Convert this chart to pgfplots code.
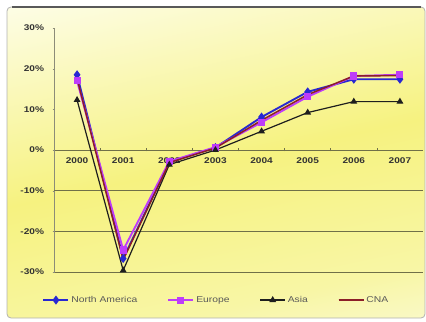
\documentclass[border=0pt]{standalone}
\usepackage{pgfplots}
\pgfplotsset{compat=1.18}
\usepackage{fontspec}
\setmainfont{Liberation Sans}
\newfontfamily\widefont[FakeStretch=1.22]{Liberation Sans}

\definecolor{gridolive}{RGB}{112,112,72}
\definecolor{axgray}{RGB}{140,140,120}
\definecolor{naBlue}{RGB}{40,40,210}
\definecolor{euViolet}{RGB}{190,60,250}
\definecolor{asBlack}{RGB}{30,30,30}
\definecolor{cnaRed}{RGB}{140,30,40}
\definecolor{bgTop}{RGB}{253,253,230}
\definecolor{bgMid}{RGB}{246,242,128}
\definecolor{bgLow}{RGB}{248,246,165}
\definecolor{bgBot}{RGB}{251,251,222}

\pgfdeclareverticalshading{chartbg}{100bp}{%
  color(0bp)=(bgBot); color(14bp)=(bgBot); color(28bp)=(bgLow);
  color(50bp)=(bgMid); color(80bp)=(bgTop); color(100bp)=(bgTop)}

\begin{document}
\begin{tikzpicture}[x=1bp,y=1bp]
\useasboundingbox (0,0) rectangle (426,322);
% chart area with shaded fill and frame
\shade[shading=chartbg, shading angle=12, rounded corners=4bp]
  (7,4) rectangle (425,315);
\draw[black!30, line width=0.8bp, rounded corners=4bp] (7,4) rectangle (425,315);
\draw[black!65, line width=1.6bp] (12,315) -- (421,315);

\begin{axis}[
  at={(54bp,50bp)}, anchor=south west,
  scale only axis, width=369bp, height=244bp,
  xmin=-0.5, xmax=7.5, ymin=-30, ymax=30,
  axis x line=middle, axis y line=left,
  axis line style={axgray, line width=0.8bp, -},
  x axis line style={gridolive},
  xtick={0,...,7},
  xticklabels={2000,2001,2002,2003,2004,2005,2006,2007},
  major x tick style={draw=none},
  minor xtick={0.5,1.5,...,6.5},
  minor x tick style={gridolive, line width=0.6bp},
  minor tick length=3bp,
  ytick={-30,-20,...,30},
  yticklabels={-30\%,-20\%,-10\%,0\%,10\%,20\%,30\%},
  major y tick style={axgray},
  major tick length=3bp,
  extra y ticks={-30,-20,-10},
  extra y tick labels={},
  extra y tick style={grid=major, major grid style={gridolive, line width=0.9bp}},
  tick label style={font=\widefont\bfseries\fontsize{8.3}{9}\selectfont, text=black!80},
  xticklabel style={yshift=-3bp},
  yticklabel style={xshift=-5bp},
  clip=false,
  legend columns=4,
  legend style={at={(axis description cs:0.44,-0.115)}, anchor=center,
    draw=none, fill=none,
    font=\widefont\fontsize{8.5}{9}\selectfont, text=black!65,
    /tikz/every even column/.append style={column sep=28bp}},
  legend image code/.code={
    \draw[#1] (0bp,0bp) -- (25bp,0bp);
    \draw[#1, mark repeat=2, mark phase=2] plot coordinates {(0bp,0bp) (12.5bp,0bp) (25bp,0bp)};
  },
]
\addplot[naBlue, line width=1.9bp, mark=diamond*, mark size=3bp,
  mark options={solid, fill=naBlue}]
  coordinates {(0,18.5) (1,-26.7) (2,-3.0) (3,0.6) (4,8.1) (5,14.3) (6,17.4) (7,17.4)};
\addlegendentry{North America}
\addplot[euViolet, line width=1.9bp, mark=square*, mark size=2.6bp,
  mark options={solid, fill=euViolet}]
  coordinates {(0,17.0) (1,-24.6) (2,-2.8) (3,0.7) (4,6.8) (5,13.1) (6,18.2) (7,18.5)};
\addlegendentry{Europe}
\addplot[asBlack, line width=1.2bp, mark=triangle*, mark size=2.8bp,
  mark options={solid, fill=asBlack}]
  coordinates {(0,12.3) (1,-29.6) (2,-3.6) (3,0.0) (4,4.6) (5,9.2) (6,11.9) (7,11.9)};
\addlegendentry{Asia}
\addplot[cnaRed, line width=1.5bp]
  coordinates {(0,17.6) (1,-27.0) (2,-3.1) (3,0.5) (4,7.3) (5,13.6) (6,18.2) (7,18.3)};
\addlegendentry{CNA}
\end{axis}
\end{tikzpicture}
\end{document}
